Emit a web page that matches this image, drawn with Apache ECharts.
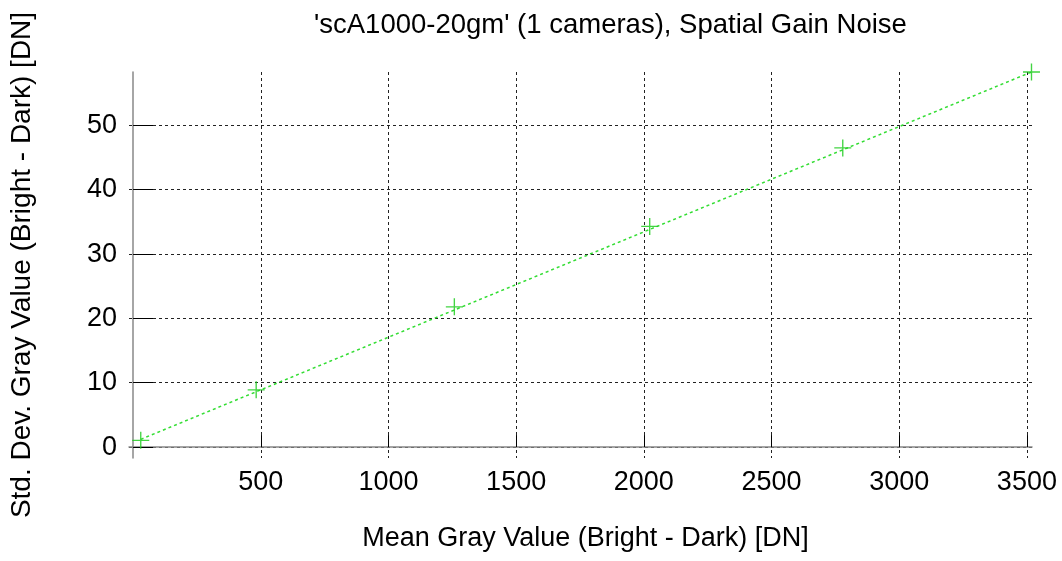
<!DOCTYPE html>
<html>
<head>
<meta charset="utf-8">
<script src="https://cdn.jsdelivr.net/npm/echarts@6/dist/echarts.min.js"></script>
<style>
  html, body { margin: 0; padding: 0; background: #fff; }
  #chart { width: 1062px; height: 561px; }
</style>
</head>
<body>
<div id="chart"></div>
<script>
// measured points (mean gray value vs std. dev.)
const meanGray = [30, 482, 1258, 2023, 2779, 3518];
const stdDev = [1.05, 8.9, 21.8, 34.3, 46.5, 58.3];
// dashed fit line, its two ends
const fitX = [30, 3518];
const fitY = [1.2, 58.3];
const xTicks = [500, 1000, 1500, 2000, 2500, 3000, 3500];
const yTicks = [0, 10, 20, 30, 40, 50];

const FONT = "'Liberation Sans', Arial, sans-serif";
const FS = 27;
const plus = 'path://M-0.08,-1 H0.08 V-0.08 H1 V0.08 H0.08 V1 H-0.08 V0.08 H-1 V-0.08 H-0.08 Z';

const myChart = echarts.init(document.getElementById('chart'));
myChart.setOption({
    animation: false,
    title: {
        text: "'scA1000-20gm' (1 cameras), Spatial Gain Noise",
        left: 314,
        top: 11,
        padding: 0,
        textStyle: { fontFamily: FONT, fontSize: 27.5, fontWeight: 'normal', color: '#000' }
    },
    grid: { left: 129, right: 30, top: 72, bottom: 103, containLabel: false },
    xAxis: {
        type: 'value',
        min: -16,
        max: 3520,
        name: 'Mean Gray Value (Bright - Dark) [DN]',
        nameLocation: 'middle',
        nameGap: 67,
        nameTextStyle: { fontFamily: FONT, fontSize: FS, color: '#000', padding: [0, 0, 0, 10] },
        axisLine: { lineStyle: { color: '#888', width: 1.5 } },
        axisTick: { inside: true, length: 12, lineStyle: { color: '#000' }, customValues: xTicks },
        axisLabel: {
            fontFamily: FONT, fontSize: FS, color: '#000', margin: 11, customValues: xTicks,
            formatter: v => String(v)
        },
        splitLine: { show: true, lineStyle: { color: '#222', type: [3, 3], width: 1 } }
    },
    yAxis: {
        type: 'value',
        min: -1.7,
        max: 58.3,
        name: 'Std. Dev. Gray Value (Bright - Dark) [DN]',
        nameLocation: 'middle',
        nameGap: 93,
        nameTextStyle: { fontFamily: FONT, fontSize: 28, color: '#000' },
        axisLine: { show: true, lineStyle: { color: '#888', width: 1.5 } },
        axisTick: { show: true, inside: true, length: 20, lineStyle: { color: '#000' }, customValues: yTicks },
        axisLabel: {
            fontFamily: FONT, fontSize: FS, color: '#000', margin: 12, customValues: yTicks,
            formatter: v => String(v)
        },
        splitLine: { show: true, lineStyle: { color: '#222', type: [3, 3], width: 1 } }
    },
    series: [
        {
            name: 'fit',
            type: 'line',
            data: fitX.map((x, i) => [x, fitY[i]]),
            symbol: 'none',
            lineStyle: { color: '#33dd33', width: 1.5, type: [3, 3] },
            silent: true,
            z: 2
        },
        {
            name: 'points',
            type: 'scatter',
            data: meanGray.map((x, i) => [x, stdDev[i]]),
            symbol: plus,
            symbolSize: 17,
            itemStyle: { color: '#22cc22', opacity: 0.85 },
            z: 3
        }
    ]
});
</script>
</body>
</html>
